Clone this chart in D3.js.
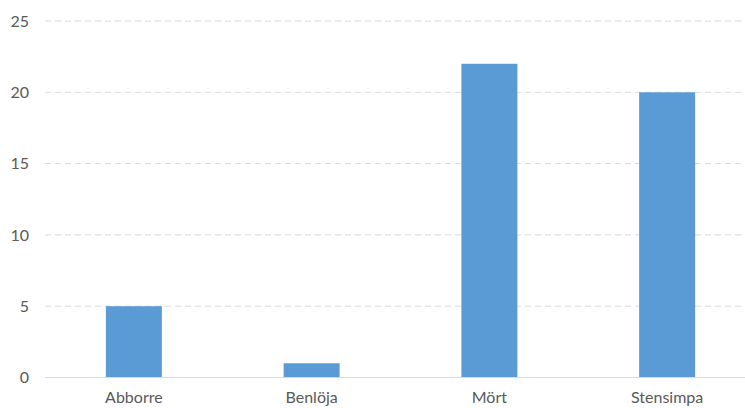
<!DOCTYPE html>
<html><head><meta charset="utf-8">
<script src="https://cdn.jsdelivr.net/npm/d3@7"></script>
<style>body{margin:0;background:#fff}svg{display:block}</style>
</head><body>
<script>
const categories = ["Abborre", "Benlöja", "Mört", "Stensimpa"];
const values = [5, 1, 22, 20];
const yTicks = [0, 5, 10, 15, 20, 25];

const W = 745, H = 408;
const svg = d3.select("body").append("svg").attr("width", W).attr("height", H);
const x = d3.scaleBand().domain(categories).range([45, 756]).padding(0);
const y = d3.scaleLinear().domain([0, 25]).range([377.5, 21]);
const font = "Lato, 'Open Sans', sans-serif";

// gridlines
svg.append("g").selectAll("line").data(yTicks.filter(d => d > 0)).join("line")
  .attr("x1", 45).attr("x2", W).attr("y1", d => y(d)).attr("y2", d => y(d))
  .attr("stroke", "#d9d9d9").attr("stroke-width", 1).attr("stroke-dasharray", "6,4");

// bars
const bw = x.bandwidth() * 0.315;
svg.append("g").selectAll("rect").data(values).join("rect")
  .attr("x", (d, i) => x(categories[i]) + x.bandwidth() / 2 - bw / 2)
  .attr("width", bw)
  .attr("y", d => y(d)).attr("height", d => y(0) - y(d))
  .attr("fill", "#5b9bd5");

// baseline
svg.append("line").attr("x1", 45).attr("x2", W).attr("y1", y(0)).attr("y2", y(0))
  .attr("stroke", "#d9d9d9").attr("stroke-width", 1.2);

// y labels
const yAxis = d3.axisLeft(y).tickValues(yTicks).tickSize(0).tickPadding(0);
const gy = svg.append("g").attr("transform", "translate(29,0)").call(yAxis);
gy.select(".domain").remove();
gy.selectAll("text").attr("font-family", font).attr("font-size", 16).attr("fill", "#595959");

// x labels
const xAxis = d3.axisBottom(x).tickSize(0).tickPadding(0);
const gx = svg.append("g").attr("transform", "translate(0,392)").call(xAxis);
gx.select(".domain").remove();
gx.selectAll("text").attr("font-family", font).attr("font-size", 16).attr("fill", "#595959");
</script>
</body></html>
